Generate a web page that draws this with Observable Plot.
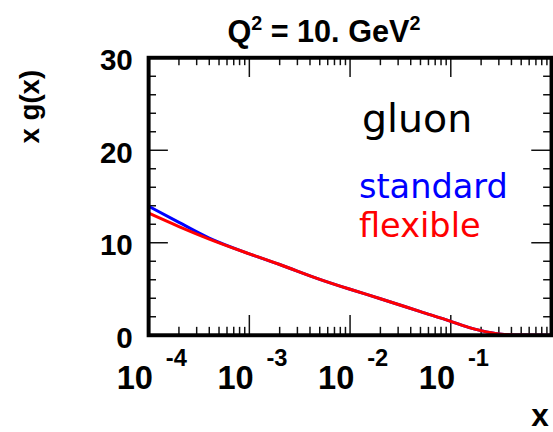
<!DOCTYPE html>
<html><head><meta charset="utf-8">
<script src="https://cdn.jsdelivr.net/npm/d3@7"></script>
<script src="https://cdn.jsdelivr.net/npm/@observablehq/plot@0.6"></script>
<style>
html,body{margin:0;padding:0;background:#fff;overflow:hidden;width:553px;height:432px;}
#c{width:553px;height:432px;overflow:hidden;}
</style></head>
<body><div id="c"></div>
<script>
const xs = [1e-4, 2e-4, 4e-4, 1e-3, 2e-3, 5e-3, 1e-2, 2e-2, 5e-2, 0.1, 0.15, 0.2, 0.3, 0.5, 1];
const standard = [13.95, 12.2, 10.5, 8.8, 7.65, 6.05, 4.97, 3.95, 2.55, 1.5, 0.85, 0.5, 0.15, 0.02, 0];
const flexible = [13.2, 11.75, 10.4, 8.8, 7.65, 6.05, 4.97, 3.95, 2.55, 1.5, 0.85, 0.5, 0.15, 0.02, 0];
const yMajor = [0, 10, 20, 30];
const yMinor = [2, 4, 6, 8, 12, 14, 16, 18, 22, 24, 26, 28];
const xMajor = [1e-4, 1e-3, 1e-2, 1e-1, 1];
const xMinor = [1e-4, 1e-3, 1e-2, 1e-1].flatMap(d => [2,3,4,5,6,7,8,9].map(k => k * d));
const xLabelDecades = [1e-4, 1e-3, 1e-2, 1e-1];
const xLabelExps = ["-4", "-3", "-2", "-1"];

const W = 560, H = 432, mL = 150, mR = 2, mT = 58, mB = 93;
const iw = W - mL - mR, ih = H - mT - mB;
const bold = {fontFamily: "Liberation Sans, Arial, sans-serif", fontWeight: "bold"};

const rows = xs.map((x, i) => ({x, s: standard[i], f: flexible[i]}));

const chart = Plot.plot({
  width: W, height: H,
  marginLeft: mL, marginRight: mR, marginTop: mT, marginBottom: mB,
  x: {type: "log", domain: [1e-4, 1], axis: null},
  y: {domain: [0, 30], axis: null},
  style: {background: "#fff", overflow: "hidden"},
  marks: [
    Plot.tickX(xMajor, {x: d => d, insetTop: ih - 20, stroke: "#111", strokeWidth: 1.5}),
    Plot.tickX(xMinor, {x: d => d, insetTop: ih - 8, stroke: "#111", strokeWidth: 1.5}),
    Plot.tickX(xMajor, {x: d => d, insetBottom: ih - 20, stroke: "#111", strokeWidth: 1.5}),
    Plot.tickX(xMinor, {x: d => d, insetBottom: ih - 8, stroke: "#111", strokeWidth: 1.5}),
    Plot.tickY(yMajor, {y: d => d, insetRight: iw - 20, stroke: "#111", strokeWidth: 1.5}),
    Plot.tickY(yMinor, {y: d => d, insetRight: iw - 8, stroke: "#111", strokeWidth: 1.5}),
    Plot.tickY(yMajor, {y: d => d, insetLeft: iw - 20, stroke: "#111", strokeWidth: 1.5}),
    Plot.tickY(yMinor, {y: d => d, insetLeft: iw - 8, stroke: "#111", strokeWidth: 1.5}),
    Plot.line(rows, {x: "x", y: "s", stroke: "#0000ff", strokeWidth: 3, curve: "monotone-x"}),
    Plot.line(rows, {x: "x", y: "f", stroke: "#ff0000", strokeWidth: 3, curve: "monotone-x"}),
    Plot.frame({stroke: "#000", strokeWidth: 4}),
    Plot.text(yMajor, {y: d => d, text: d => String(d), frameAnchor: "left", textAnchor: "end", dx: -16, dy: 3, fontSize: 30, fill: "#000", ...bold}),
    Plot.text(xLabelDecades, {x: d => d, text: () => "10", frameAnchor: "bottom", lineAnchor: "bottom", textAnchor: "middle", dx: -14, dy: 54, fontSize: 33, fill: "#000", ...bold}),
    Plot.text(xLabelDecades, {x: d => d, text: (d, i) => xLabelExps[i], frameAnchor: "bottom", lineAnchor: "bottom", textAnchor: "middle", dx: 28, dy: 31, fontSize: 24, fill: "#000", ...bold}),
    Plot.text(["gluon"], {text: d => d, frameAnchor: "top-left", lineAnchor: "bottom", dx: 216, dy: 75, fontSize: 40, fill: "#000", fontFamily: "DejaVu Sans"}),
    Plot.text(["standard"], {text: d => d, frameAnchor: "top-left", lineAnchor: "bottom", dx: 213, dy: 142, fontSize: 34, fill: "#0000ff", fontFamily: "DejaVu Sans"}),
    Plot.text(["flexible"], {text: d => d, frameAnchor: "top-left", lineAnchor: "bottom", dx: 213, dy: 182, fontSize: 34, fill: "#ff0000", fontFamily: "DejaVu Sans"})
  ]
});

const svg = d3.select(chart);
const t = svg.append("text").attr("x", 328).attr("y", 43).attr("text-anchor", "middle")
  .attr("font-family", "Liberation Sans, Arial, sans-serif").attr("font-weight", "bold").attr("font-size", 31).attr("fill", "#000");
t.append("tspan").text("Q");
t.append("tspan").attr("dy", -13).attr("font-size", 20).text("2");
t.append("tspan").attr("dy", 13).text(" = 10. GeV");
t.append("tspan").attr("dy", -13).attr("font-size", 20).text("2");
svg.append("text").attr("transform", "translate(39,108) rotate(-90)").attr("text-anchor", "middle")
  .attr("font-family", "Liberation Sans, Arial, sans-serif").attr("font-weight", "bold").attr("font-size", 28).attr("fill", "#000").text("x g(x)");
svg.append("text").attr("x", 538).attr("y", 431).attr("text-anchor", "start")
  .attr("font-family", "Liberation Sans, Arial, sans-serif").attr("font-weight", "bold").attr("font-size", 32).attr("fill", "#000").text("x");

document.getElementById("c").appendChild(chart);
</script></body></html>
